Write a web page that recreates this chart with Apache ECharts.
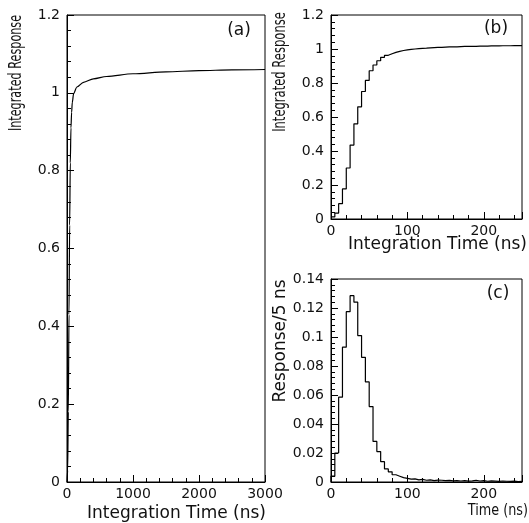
<!DOCTYPE html>
<html>
<head>
<meta charset="utf-8">
<title>Integrated response</title>
<script src="https://cdn.jsdelivr.net/npm/echarts@6.0.0/dist/echarts.min.js"></script>
<style>
html, body { margin: 0; padding: 0; background: #fff; }
#chart { width: 529px; height: 523px; }
</style>
</head>
<body>
<div id="chart"></div>
<script>
// (a) integrated response over the full 3 us window
const aTime = [0, 10, 20, 30, 40, 50, 60, 70, 80, 100, 150, 250, 400, 600, 1000, 1500, 2000, 2500, 3000]
const aResp = [0, 0.03, 0.18, 0.43, 0.66, 0.82, 0.91, 0.95, 0.975, 0.998, 1.015, 1.027, 1.036, 1.042, 1.049, 1.054, 1.057, 1.059, 1.06]

// (b) and (c) are histograms with 5 ns bins from 0 to 250 ns
const binWidth = 5
const bResp = [
  0.012, 0.035, 0.09, 0.177, 0.30, 0.435, 0.56, 0.66, 0.75, 0.815,
  0.872, 0.906, 0.931, 0.951, 0.963, 0.972, 0.980, 0.986, 0.991, 0.995,
  0.998, 1.000, 1.002, 1.004, 1.005, 1.007, 1.008, 1.009, 1.010, 1.011,
  1.012, 1.013, 1.013, 1.014, 1.015, 1.015, 1.016, 1.016, 1.017, 1.017,
  1.017, 1.018, 1.018, 1.018, 1.019, 1.019, 1.019, 1.020, 1.020, 1.020
]
const cResp = [
  0.004, 0.020, 0.0585, 0.093, 0.1175, 0.1285, 0.124, 0.101, 0.086, 0.069,
  0.052, 0.028, 0.021, 0.014, 0.009, 0.007, 0.005, 0.004, 0.003, 0.0025,
  0.002, 0.0022, 0.0015, 0.0018, 0.0012, 0.0015, 0.0010, 0.0013, 0.0012, 0.0009,
  0.0011, 0.0008, 0.0010, 0.0007, 0.0009, 0.0006, 0.0008, 0.0012, 0.0007, 0.0010,
  0.0005, 0.0008, 0.0006, 0.0004, 0.0007, 0.0005, 0.0004, 0.0006, 0.0003, 0.0004
]

// axis ranges: [min, max, interval]
const aXRange = [0, 3000, 1000]
const aYRange = [0, 1.2, 0.2]
const bXRange = [0, 250, 100]
const bYRange = [0, 1.2, 0.2]
const cXRange = [0, 250, 100]
const cYRange = [0, 0.14, 0.02]

const FONT = 'DejaVu Sans'
const INK = '#111'

// bin i covers [i*5, i*5+5], step 'end' draws it flat over the bin
function histPoints(vals) {
  const pts = vals.map((v, i) => [i * binWidth, v])
  pts.push([vals.length * binWidth, vals[vals.length - 1]])
  return pts
}

function axis(gridIndex, range, isY) {
  // 250 is not a round tick, so no label there
  const oddMax = Math.abs(range[1] / range[2] - Math.round(range[1] / range[2])) > 1e-6
  return {
    type: 'value',
    gridIndex: gridIndex,
    min: range[0],
    max: range[1],
    interval: range[2],
    axisLine: { show: true, onZero: false, lineStyle: { color: '#000', width: 1 } },
    axisTick: { show: true, inside: true, length: 7, lineStyle: { color: '#000', width: 1 } },
    minorTick: { show: true, splitNumber: 5, length: 4, lineStyle: { color: '#000', width: 1 } },
    splitLine: { show: false },
    axisLabel: {
      color: INK, fontSize: 14, fontFamily: FONT, margin: isY ? 7 : 5,
      showMaxLabel: !oddMax,
      formatter: v => '' + v
    }
  }
}

function label(text, x, y, opts) {
  opts = opts || {}
  return {
    type: 'text',
    x: x,
    y: y,
    rotation: opts.rot || 0,
    scaleX: opts.sx || 1,
    style: {
      text: text,
      fill: INK,
      font: (opts.size || 17) + 'px "' + FONT + '"',
      textAlign: opts.align || 'center',
      textVerticalAlign: 'middle'
    }
  }
}

const lineStyle = { color: '#000', width: 1.2 }

const option = {
  animation: false,
  backgroundColor: '#fff',
  grid: [
    { left: 67, top: 15, width: 198, height: 467, show: true, borderColor: '#000', borderWidth: 1, outerBoundsMode: 'none' },
    { left: 331, top: 15, width: 191, height: 204, show: true, borderColor: '#000', borderWidth: 1, outerBoundsMode: 'none' },
    { left: 331, top: 279, width: 191, height: 203, show: true, borderColor: '#000', borderWidth: 1, outerBoundsMode: 'none' }
  ],
  xAxis: [axis(0, aXRange, false), axis(1, bXRange, false), axis(2, cXRange, false)],
  yAxis: [axis(0, aYRange, true), axis(1, bYRange, true), axis(2, cYRange, true)],
  series: [
    {
      type: 'line', xAxisIndex: 0, yAxisIndex: 0,
      data: aTime.map((t, i) => [t, aResp[i]]),
      smooth: 0.3, smoothMonotone: 'x',
      showSymbol: false, lineStyle: lineStyle
    },
    {
      type: 'line', xAxisIndex: 1, yAxisIndex: 1,
      data: histPoints(bResp), step: 'end',
      showSymbol: false, lineStyle: lineStyle
    },
    {
      type: 'line', xAxisIndex: 2, yAxisIndex: 2,
      data: [[0, 0]].concat(histPoints(cResp)), step: 'end',
      showSymbol: false, lineStyle: lineStyle
    }
  ],
  graphic: [
    // axis titles
    label('Integration Time (ns)', 266, 514, { align: 'right' }),
    label('Integration Time (ns)', 527, 245, { align: 'right' }),
    label('Time (ns)', 528, 511, { align: 'right', size: 16, sx: 0.8 }),
    label('Integrated Response', 17, 73, { rot: Math.PI / 2, size: 17, sx: 0.66 }),
    label('Integrated Response', 281, 72, { rot: Math.PI / 2, size: 17, sx: 0.68 }),
    label('Response/5 ns', 281, 341, { rot: Math.PI / 2, size: 17 }),
    // panel tags
    label('(a)', 239, 31),
    label('(b)', 496, 29),
    label('(c)', 498, 294)
  ]
}

const chart = echarts.init(document.getElementById('chart'))
chart.setOption(option)
</script>
</body>
</html>
